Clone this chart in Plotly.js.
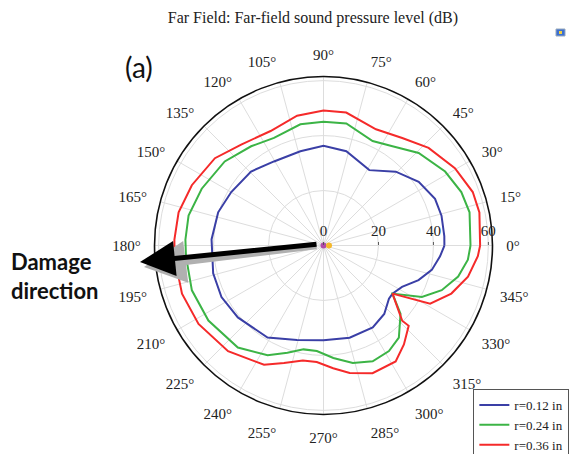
<!DOCTYPE html>
<html><head><meta charset="utf-8">
<script src="https://cdn.plot.ly/plotly-3.0.1.min.js"></script>
<style>html,body{margin:0;padding:0;background:#fff}#chart{width:571px;height:454px}</style>
</head><body><div id="chart"></div>
<script>
// ---- data ----
const seriesNames = ["r=0.12 in", "r=0.24 in", "r=0.36 in"];

const blueTheta = [0, 4.5, 14.2, 22.7, 33.8, 45.6, 58.7, 76.4, 90, 103.8, 120.5, 134.4, 149.9, 162.5, 176.9, 194.1, 206.8, 220, 238.7, 254.3, 270, 285.8, 301, 311.6, 320.9, 325.1, 332.2, 340, 347.3, 354.7, 360];
const blueR     = [44.0, 44.1, 44.3, 44.0, 41.7, 37.6, 32.1, 35.3, 36.3, 35.3, 35.5, 37.7, 38.8, 40.2, 40.8, 41.4, 41.6, 40.7, 39.2, 35.7, 34.5, 34.9, 34.8, 33.3, 30.7, 30.6, 32.3, 36.8, 40.4, 42.6, 44.0];

const greenTheta = [0, 12.8, 21.2, 31.3, 44.2, 55.2, 64.8, 79.4, 90, 100.8, 114.7, 126.1, 139.6, 155, 167.5, 177.6, 184.5, 198.8, 213.1, 230, 243, 251.4, 259.1, 266.4, 275, 284, 293, 301.8, 309.3, 318.4, 325.1, 332.4, 339.3, 347, 354.4, 360];
const greenR     = [53.5, 54.5, 53.8, 51.8, 48.3, 44.0, 42.0, 45.2, 45.0, 44.9, 43.1, 44.7, 47.2, 48.9, 50.3, 50.3, 50.2, 50.6, 50.0, 48.5, 44.8, 41.2, 38.5, 38.5, 41.1, 44.1, 45.8, 45.2, 43.3, 37.5, 30.6, 40.4, 46.0, 50.3, 52.8, 53.5];

const redTheta = [0, 12, 19.7, 30.5, 42.9, 53.8, 65.7, 80.3, 90, 101.5, 114.8, 129.2, 141.2, 155.4, 167.1, 177.7, 184.2, 198.8, 212.1, 227.9, 243.5, 251.4, 259.8, 266.7, 274.5, 281.6, 291, 301.9, 309.1, 316.7, 316.3, 325.1, 331.4, 339.4, 347.8, 356, 360];
const redR     = [57.0, 58.0, 57.7, 55.5, 52.2, 48.5, 46.4, 49.1, 49.1, 48.2, 45.9, 47.4, 50.7, 52.7, 54.1, 54.3, 54.4, 54.4, 53.7, 51.8, 48.5, 45.1, 42.5, 42.5, 44.8, 47.4, 49.8, 49.7, 46.4, 42.6, 39.6, 30.6, 44.2, 49.7, 53.8, 56.3, 57.0];

const radialTicks = [0, 20, 40, 60];
const angleTicks = [0,15,30,45,60,75,90,105,120,135,150,165,180,195,210,225,240,255,270,285,300,315,330,345];
const angleTickText = angleTicks.map(a => a + "°");
const centerMarkR = [0, 2];
const centerMarkTheta = [0, 0];

// ---- chart ----
const serif = "Liberation Serif";
const traces = [
  {type:"scatterpolar", mode:"lines", name:seriesNames[0], r:blueR, theta:blueTheta, line:{color:"#3a3fa6", width:2}},
  {type:"scatterpolar", mode:"lines", name:seriesNames[1], r:greenR, theta:greenTheta, line:{color:"#3cb446", width:2}},
  {type:"scatterpolar", mode:"lines", name:seriesNames[2], r:redR, theta:redTheta, line:{color:"#f52a2a", width:2}},
  {type:"scatterpolar", mode:"markers", showlegend:false, r:centerMarkR, theta:centerMarkTheta,
   marker:{size:6, color:["#b04aa8", "#f5b82a"]}, hoverinfo:"skip"}
];

const layout = {
  width:571, height:454,
  margin:{l:0, r:0, t:0, b:0, autoexpand:false},
  paper_bgcolor:"#fff",
  font:{family:serif},
  showlegend:true,
  title:{text:"Far Field: Far-field sound pressure level (dB)", font:{family:serif, size:16, color:"#222"},
         x:0.548, xanchor:"center", y:0.962, yanchor:"middle"},
  legend:{x:0.829, xanchor:"left", y:1-389/454, yanchor:"top", bgcolor:"#fff",
          bordercolor:"#555", borderwidth:1, font:{family:serif, size:13, color:"#222"},
          tracegroupgap:0, itemwidth:30},
  polar:{
    domain:{x:[0.2706, 0.8625], y:[0.0870, 0.8315]},
    bgcolor:"#fff",
    radialaxis:{range:[0,61.5], tickvals:radialTicks, angle:0, side:"counterclockwise",
                showline:false, ticks:"outside", ticklen:3, tickcolor:"#555",
                gridcolor:"#dddddd", gridwidth:1,
                tickfont:{family:serif, size:15, color:"#222"}},
    angularaxis:{tickvals:angleTicks, ticktext:angleTickText, direction:"counterclockwise", rotation:0,
                 showline:true, linecolor:"#111", linewidth:1.6,
                 ticks:"outside", ticklen:10, tickcolor:"rgba(0,0,0,0)",
                 gridcolor:"#dddddd", gridwidth:1,
                 tickfont:{family:serif, size:15, color:"#222"}}
  },
  shapes:[
    {type:"rect", xref:"paper", yref:"paper", x0:556/571, x1:565/571, y0:1-36/454, y1:1-29/454,
     fillcolor:"#3d6fd0", line:{color:"#9ab", width:1}},
    {type:"rect", xref:"paper", yref:"paper", x0:559/571, x1:562/571, y0:1-34/454, y1:1-31/454,
     fillcolor:"#f0d040", line:{width:0}}
  ],
  annotations:[
    {xref:"paper", yref:"paper", x:144/571, y:1-267/454, ax:174, ay:-21, text:"", showarrow:true,
     arrowhead:2, arrowsize:1.4, arrowwidth:6, arrowcolor:"#b0b0b0"},
    {xref:"paper", yref:"paper", x:140/571, y:1-262/454, ax:178, ay:-18, text:"", showarrow:true,
     arrowhead:2, arrowsize:1.4, arrowwidth:5, arrowcolor:"#000"},
    {xref:"paper", yref:"paper", x:9/571, y:1-276/454, xanchor:"left", yanchor:"middle", align:"left",
     text:"<b>Damage<br>direction</b>", showarrow:false,
     font:{family:"Lato", size:22, color:"#111"}},
    {xref:"paper", yref:"paper", x:123/571, y:1-67/454, xanchor:"left", yanchor:"middle",
     text:"(a)", showarrow:false, font:{family:"Lato", size:28, color:"#111"}}
  ]
};

Plotly.newPlot("chart", traces, layout, {displayModeBar:false, staticPlot:true});
</script>
</body></html>
